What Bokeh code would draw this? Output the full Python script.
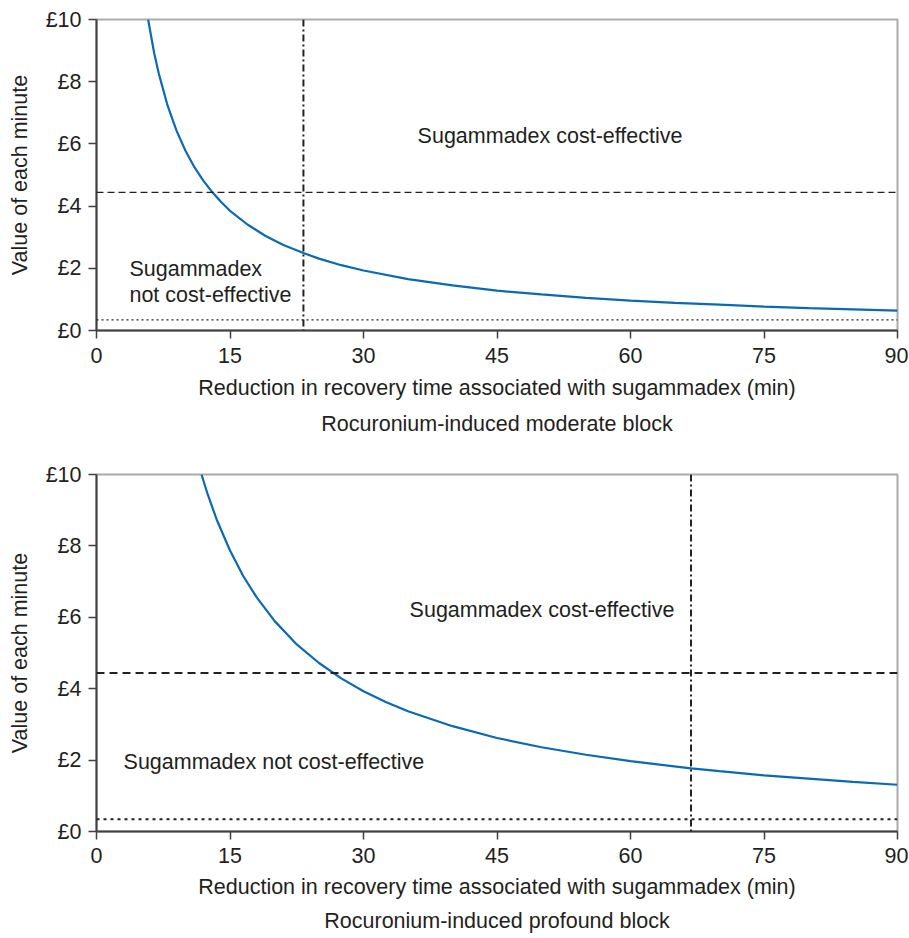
from bokeh.plotting import figure
from bokeh.models import Range1d, Span, Label, FixedTicker, Title
from bokeh.layouts import column
from bokeh.embed import file_html
from bokeh.resources import INLINE

# ---------------- data ----------------
x_ticks = [0, 15, 30, 45, 60, 75, 90]
y_ticks = [0, 2, 4, 6, 8, 10]
y_tick_labels = ["£0", "£2", "£4", "£6", "£8", "£10"]

# moderate block: value of each minute (£) vs reduction in recovery time (min)
moderate_min = [5.8, 6.5, 7.0, 8.0, 9.0, 10.0, 11.0, 12.0, 13.0, 14.0, 15.0, 17.0,
                19.0, 21.0, 23.25, 25.0, 27.5, 30.0, 35.0, 40.0, 45.0, 50.0, 55.0,
                60.0, 65.0, 70.0, 75.0, 80.0, 85.0, 90.0]
moderate_value = [10.0, 8.89, 8.26, 7.22, 6.42, 5.78, 5.25, 4.82, 4.45, 4.13, 3.85, 3.40,
                  3.04, 2.75, 2.49, 2.31, 2.10, 1.93, 1.65, 1.45, 1.28, 1.16, 1.05,
                  0.96, 0.89, 0.83, 0.77, 0.72, 0.68, 0.64]
moderate_breakeven = 23.25

# profound block
profound_min = [11.8, 12.5, 13.5, 15.0, 16.5, 18.0, 20.0, 22.5, 25.0, 27.5, 30.0, 32.5,
                35.0, 40.0, 45.0, 50.0, 55.0, 60.0, 66.8, 70.0, 75.0, 80.0, 85.0, 90.0]
profound_value = [10.0, 9.44, 8.74, 7.87, 7.15, 6.56, 5.90, 5.24, 4.72, 4.29, 3.93, 3.63,
                  3.37, 2.95, 2.62, 2.36, 2.15, 1.97, 1.77, 1.69, 1.57, 1.48, 1.39, 1.31]
profound_breakeven = 66.8

upper_threshold = 4.44
lower_threshold = 0.34

x_label = "Reduction in recovery time associated with sugammadex (min)"
y_label = "Value of each minute"
titles = ["Rocuronium-induced moderate block", "Rocuronium-induced profound block"]
txt_ce = "Sugammadex cost-effective"
txt_nce_1 = "Sugammadex"
txt_nce_2 = "not cost-effective"
txt_nce = "Sugammadex not cost-effective"

# ---------------- styling ----------------
FONT = "Liberation Sans"
FS = "21.5px"
TXT = "#231f20"
AXC = "#404040"
CURVE = "#0a6ab4"


def panel(xs, ys, vline, subtitle, height, top_b, bottom_b, heavy, gaps):
    tick_sd, label_sd, title_sd = gaps
    p = figure(width=908, height=height, output_backend="svg", toolbar_location=None,
               x_range=Range1d(0, 90), y_range=Range1d(0, 10),
               min_border_left=96, min_border_right=11,
               min_border_top=top_b, min_border_bottom=bottom_b)
    p.grid.visible = False
    p.outline_line_color = "#ababab"
    p.outline_line_width = 2
    p.background_fill_color = "white"
    p.border_fill_color = "white"

    for ax in (p.xaxis[0], p.yaxis[0]):
        ax.axis_line_color = AXC
        ax.axis_line_width = 2
        ax.major_tick_line_color = AXC
        ax.major_tick_line_width = 1.5
        ax.major_tick_out = 8
        ax.major_tick_in = 0
        ax.minor_tick_line_color = None
        ax.major_label_text_font = FONT
        ax.major_label_text_font_size = FS
        ax.major_label_text_color = TXT
        ax.axis_label_text_font = FONT
        ax.axis_label_text_font_size = FS
        ax.axis_label_text_font_style = "normal"
        ax.axis_label_text_color = TXT

    p.xaxis[0].ticker = FixedTicker(ticks=x_ticks)
    p.xaxis[0].axis_label = x_label
    p.xaxis[0].major_label_standoff = tick_sd
    p.xaxis[0].axis_label_standoff = label_sd

    p.yaxis[0].ticker = FixedTicker(ticks=y_ticks)
    p.yaxis[0].major_label_overrides = {t: l for t, l in zip(y_ticks, y_tick_labels)}
    p.yaxis[0].axis_label = y_label
    p.yaxis[0].major_label_standoff = 7
    p.yaxis[0].axis_label_standoff = 11

    t = Title(text=subtitle, align="center", text_font=FONT, text_font_size=FS,
              text_font_style="normal", text_color=TXT, standoff=title_sd)
    p.add_layout(t, "below")

    lw = 2 if heavy else 1.2
    p.add_layout(Span(location=upper_threshold, dimension="width", line_color="#222222",
                      line_width=lw, line_dash="8 5" if heavy else "7 4"))
    p.add_layout(Span(location=lower_threshold, dimension="width", line_color="#222222",
                      line_width=lw, line_dash="3 4" if heavy else "2 3"))
    p.add_layout(Span(location=vline, dimension="height", line_color="#222222",
                      line_width=2, line_dash="7 3 2 3"))

    p.line(xs, ys, line_color=CURVE, line_width=2.2)
    return p


p1 = panel(moderate_min, moderate_value, moderate_breakeven, titles[0], 451, 19, 121, False,
           (9, 10, 14))
p1.add_layout(Label(x=50.96, y=6.27, text=txt_ce, text_align="center", text_baseline="middle",
                    text_font=FONT, text_font_size=FS, text_color=TXT))
p1.add_layout(Label(x=3.7, y=1.99, text=txt_nce_1, text_align="left", text_baseline="middle",
                    text_font=FONT, text_font_size=FS, text_color=TXT))
p1.add_layout(Label(x=3.7, y=1.13, text=txt_nce_2, text_align="left", text_baseline="middle",
                    text_font=FONT, text_font_size=FS, text_color=TXT))

p2 = panel(profound_min, profound_value, profound_breakeven, titles[1], 487, 23, 105, True,
           (8, 9, 11))
p2.add_layout(Label(x=50.06, y=6.21, text=txt_ce, text_align="center", text_baseline="middle",
                    text_font=FONT, text_font_size=FS, text_color=TXT))
p2.add_layout(Label(x=3.04, y=1.94, text=txt_nce, text_align="left", text_baseline="middle",
                    text_font=FONT, text_font_size=FS, text_color=TXT))

layout = column(p1, p2, spacing=0)
open("out.html", "w").write(file_html(layout, INLINE))
